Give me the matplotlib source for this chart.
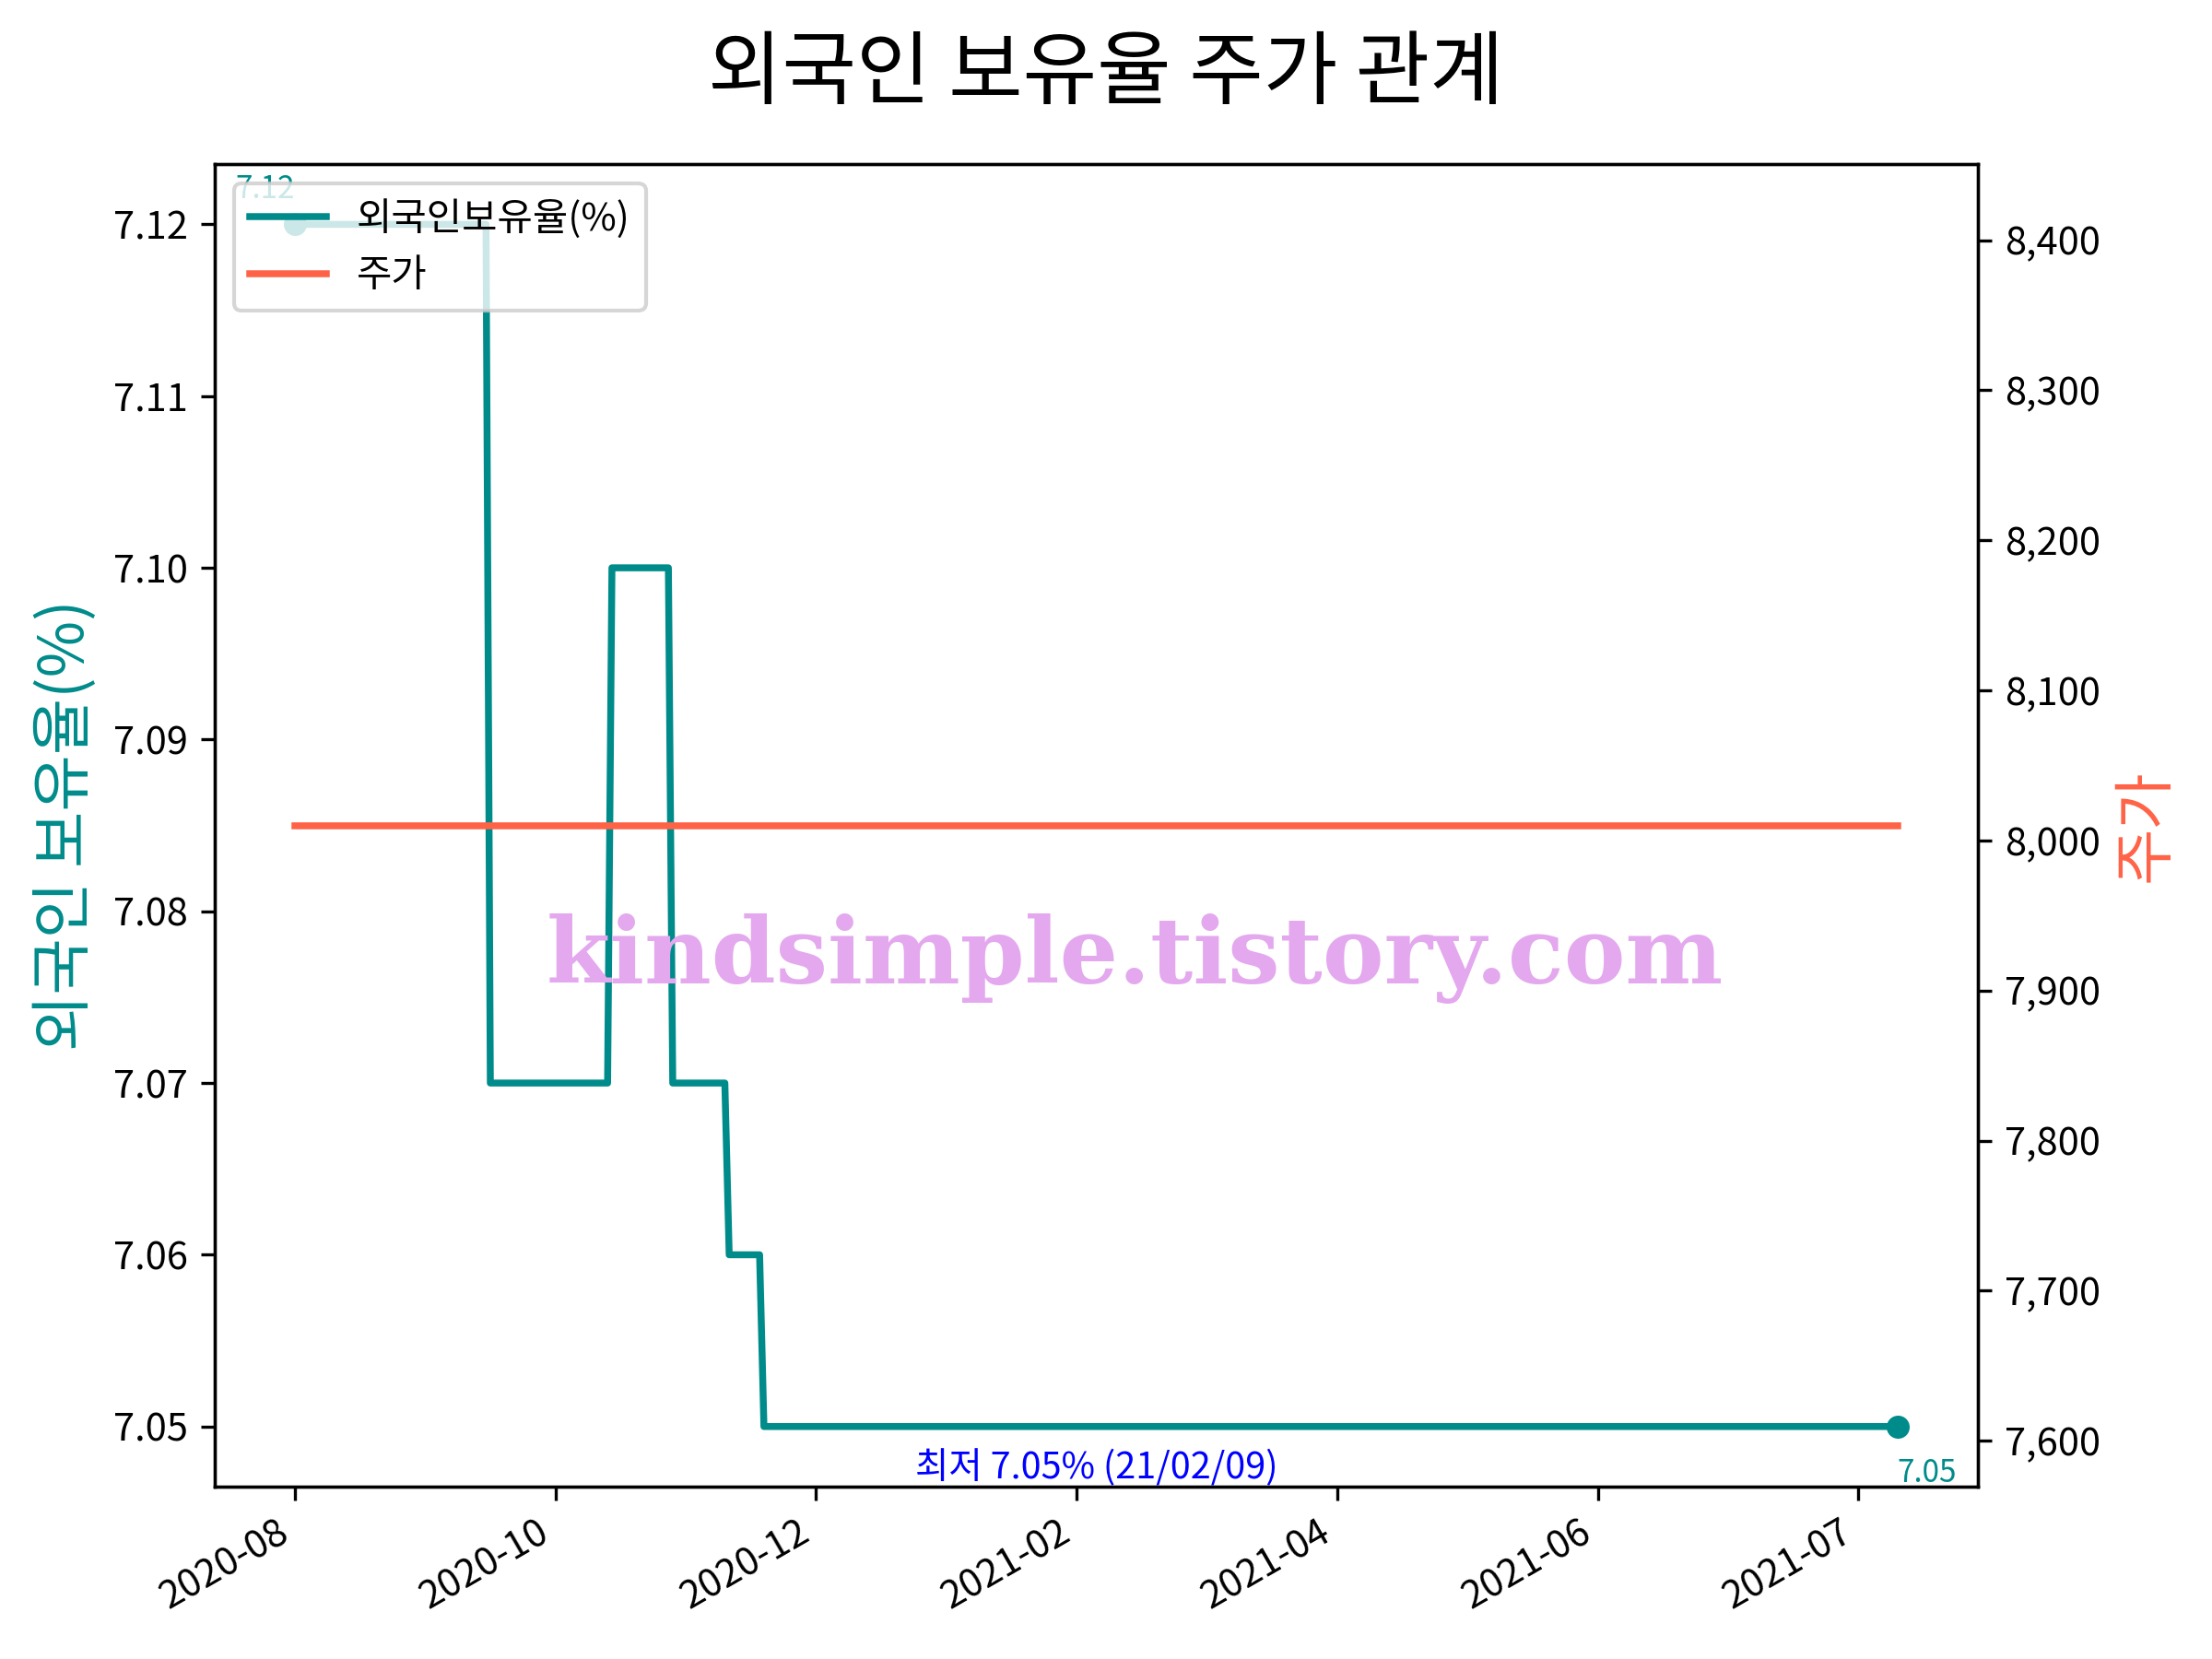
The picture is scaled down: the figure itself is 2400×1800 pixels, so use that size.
import matplotlib
matplotlib.use("Agg")
import matplotlib.pyplot as plt
import matplotlib.ticker as mticker
import pandas as pd

plt.rcParams['font.family'] = ['Noto Sans CJK KR', 'DejaVu Sans']
plt.rcParams['axes.unicode_minus'] = False

# 외국인 보유율 (breakpoints of the step-like series)
hold_dates = ['2020-08-05', '2020-09-18', '2020-09-19', '2020-10-16', '2020-10-17',
              '2020-10-30', '2020-10-31', '2020-11-12', '2020-11-13', '2020-11-20',
              '2020-11-21', '2021-08-09']
hold_values = [7.12, 7.12, 7.07, 7.07, 7.10, 7.10, 7.07, 7.07, 7.06, 7.06, 7.05, 7.05]

# 주가 (flat)
price_dates = ['2020-08-05', '2021-08-09']
price_values = [8010, 8010]

tick_dates = ['2020-08-05', '2020-10-04', '2020-12-03', '2021-02-01',
              '2021-04-02', '2021-06-01', '2021-07-31']
tick_labels = ['2020-08', '2020-10', '2020-12', '2021-02', '2021-04', '2021-06', '2021-07']

min_label = '최저 7.05% (21/02/09)'
watermark = 'kindsimple.tistory.com'

hd = pd.to_datetime(hold_dates)
pd_ = pd.to_datetime(price_dates)

c1 = '#008B8B'
c2 = '#FF6347'

fig, ax1 = plt.subplots(figsize=(8, 6), dpi=300)
fig.subplots_adjust(left=0.0971, right=0.894, bottom=0.1039, top=0.901)
ax2 = ax1.twinx()

l1, = ax1.plot(hd, hold_values, color=c1, lw=1.8, label='외국인보유율(%)')
ax1.plot([hd[0], hd[-1]], [hold_values[0], hold_values[-1]], 'o', color=c1, ms=5)
l2, = ax2.plot(pd_, price_values, color=c2, lw=1.8, label='주가')

ax2.set_ylim(min(price_values) * 0.945, max(price_values) * 1.055)
ax2.yaxis.set_major_formatter(mticker.StrMethodFormatter('{x:,.0f}'))

ax1.set_ylabel('외국인 보유율(%)', color=c1, fontsize=16)
ax2.set_ylabel('주가', color=c2, fontsize=16)

ax1.annotate(f'{hold_values[0]:.2f}', (hd[0], hold_values[0]), xytext=(0, 5),
             textcoords='offset points', ha='right', va='bottom', color=c1, fontsize=8)
ax1.annotate(f'{hold_values[-1]:.2f}', (hd[-1], hold_values[-1]), xytext=(0, -8),
             textcoords='offset points', ha='left', va='top', color=c1, fontsize=8)
ax1.text(0.5, 0.0, min_label, transform=ax1.transAxes, ha='center', va='bottom',
         color='blue', fontsize=9.5)

ax1.set_xticks(pd.to_datetime(tick_dates))
ax1.set_xticklabels(tick_labels, rotation=30, ha='right')

leg = ax2.legend([l1, l2], [l1.get_label(), l2.get_label()], loc='upper left', fontsize=10)

fig.suptitle('외국인 보유율 주가 관계', fontsize=21, y=0.98)

fig.text(0.513, 0.422, watermark, ha='center', va='center', fontsize=24,
         family='DejaVu Serif', weight='bold', color='#E4A8EE', zorder=10)

fig.savefig('out.png', dpi=300)
